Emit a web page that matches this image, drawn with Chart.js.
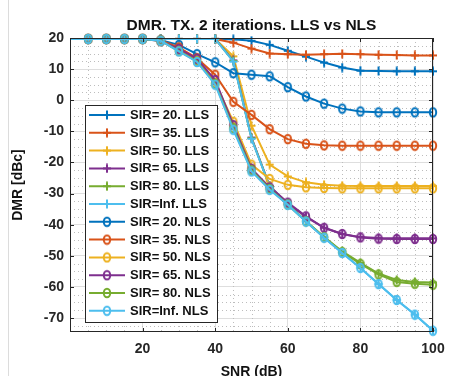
<!DOCTYPE html>
<html>
<head>
<meta charset="utf-8">
<script src="https://cdn.jsdelivr.net/npm/chart.js@4/dist/chart.umd.min.js"></script>
<style>
  html, body { margin: 0; padding: 0; background: #fff; }
  #wrap { position: relative; width: 475px; height: 376px; overflow: hidden; }
  #wrap canvas { position: absolute; left: 0; top: 0; }
  #edge { position: absolute; left: 8px; top: 0; width: 1px; height: 376px; background: #dcdcdc; }
</style>
</head>
<body>
<div id="wrap">
  <canvas id="c" width="475" height="376"></canvas>
  <div id="edge"></div>
</div>
<script>
// SNR sweep (dB)
const snr = [0, 5, 10, 15, 20, 25, 30, 35, 40, 45, 50, 55, 60, 65, 70, 75, 80, 85, 90, 95, 100];

// DMR [dBc] with the LLS estimator, one array per SIR
const llsSir20  = [19.7, 19.7, 19.7, 19.7, 19.7, 19.7, 19.7, 19.7, 19.7, 19.6, 19.1, 17.8, 15.9, 14.0, 12.1, 10.5, 9.5, 9.4, 9.3, 9.3, 9.3];
const llsSir35  = [19.7, 19.7, 19.7, 19.7, 19.7, 19.7, 19.7, 19.7, 19.7, 18.5, 16.6, 15.0, 14.8, 14.6, 14.8, 14.9, 14.8, 14.6, 14.5, 14.4, 14.4];
const llsSir50  = [19.7, 19.7, 19.7, 19.7, 19.7, 19.7, 19.7, 19.7, 19.7, 14.1, -8.2, -20.7, -24.5, -26.4, -27.2, -27.5, -27.6, -27.6, -27.6, -27.6, -27.6];
const llsSir65  = [19.7, 19.7, 19.7, 19.7, 19.7, 19.7, 19.7, 19.7, 19.7, 12.8, -12.0, -27.6, -33.2, -37.5, -41.0, -43.0, -44.0, -44.3, -44.4, -44.4, -44.4];
const llsSir80  = [19.7, 19.7, 19.7, 19.7, 19.7, 19.7, 19.7, 19.7, 19.7, 12.6, -12.2, -27.7, -33.5, -38.9, -44.0, -48.6, -52.3, -55.7, -57.8, -58.4, -58.6];
const llsSirInf = [19.7, 19.7, 19.7, 19.7, 19.7, 19.7, 19.7, 19.7, 19.7, 12.4, -12.4, -27.8, -33.6, -39.0, -44.2, -49.1, -53.9, -59.1, -64.2, -68.9, -74.0];

// DMR [dBc] with the NLS estimator, one array per SIR
const nlsSir20  = [19.7, 19.7, 19.7, 19.7, 19.7, 19.3, 17.8, 14.8, 12.2, 8.7, 8.2, 7.7, 4.2, 1.2, -1.1, -2.7, -3.6, -3.9, -3.9, -3.9, -3.9];
const nlsSir35  = [19.7, 19.7, 19.7, 19.7, 19.7, 19.2, 17.0, 13.5, 8.2, -0.5, -4.7, -9.3, -12.5, -14.0, -14.5, -14.6, -14.6, -14.6, -14.6, -14.6, -14.6];
const nlsSir50  = [19.7, 19.7, 19.7, 19.7, 19.7, 19.1, 16.0, 12.8, 5.5, -6.9, -20.7, -25.3, -27.2, -28.0, -28.2, -28.3, -28.3, -28.3, -28.3, -28.3, -28.3];
const nlsSir65  = [19.7, 19.7, 19.7, 19.7, 19.7, 19.0, 16.5, 13.3, 6.5, -8.0, -22.0, -28.0, -32.9, -37.3, -41.0, -43.0, -44.1, -44.5, -44.6, -44.6, -44.6];
const nlsSir80  = [19.7, 19.7, 19.7, 19.7, 19.7, 19.1, 15.8, 12.5, 5.3, -9.0, -22.5, -28.5, -33.5, -38.9, -44.0, -48.8, -52.6, -56.0, -58.4, -59.0, -59.3];
const nlsSirInf = [19.7, 19.7, 19.7, 19.7, 19.7, 19.1, 15.7, 12.3, 5.0, -9.5, -22.9, -28.8, -33.6, -39.0, -44.2, -49.1, -53.9, -59.1, -64.2, -68.9, -74.1];

// Legend texts
const seriesLabels = [
  'SIR= 20. LLS', 'SIR= 35. LLS', 'SIR= 50. LLS', 'SIR= 65. LLS', 'SIR= 80. LLS', 'SIR=Inf. LLS',
  'SIR= 20. NLS', 'SIR= 35. NLS', 'SIR= 50. NLS', 'SIR= 65. NLS', 'SIR= 80. NLS', 'SIR=Inf. NLS'
];
const xTicks = [20, 40, 60, 80, 100];
const yTicks = [20, 10, 0, -10, -20, -30, -40, -50, -60, -70];

const seriesValues = [llsSir20, llsSir35, llsSir50, llsSir65, llsSir80, llsSirInf,
                      nlsSir20, nlsSir35, nlsSir50, nlsSir65, nlsSir80, nlsSirInf];
const palette = ['#0072BD', '#D95319', '#EDB120', '#7E2F8E', '#77AC30', '#4DBEEE'];

// '+' marker
function plusMarker(color) {
  const c = document.createElement('canvas');
  c.width = 10; c.height = 10;
  const g = c.getContext('2d');
  g.strokeStyle = color; g.lineWidth = 2;
  g.beginPath();
  g.moveTo(5, 0.5); g.lineTo(5, 9.5);
  g.moveTo(1, 5); g.lineTo(9, 5);
  g.stroke();
  return c;
}
// 'o' marker
function ovalMarker(color) {
  const c = document.createElement('canvas');
  c.width = 12; c.height = 12;
  const g = c.getContext('2d');
  g.strokeStyle = color; g.lineWidth = 2;
  g.beginPath();
  g.ellipse(6, 6, 3.2, 4.3, 0, 0, Math.PI * 2);
  g.stroke();
  return c;
}

// no marker on the sample sitting on the left axis edge
const markerRadius = snr.map(v => (v === 0 ? 0 : 5));

const datasets = seriesValues.map((vals, i) => {
  const color = palette[i % 6];
  const marker = i < 6 ? plusMarker(color) : ovalMarker(color);
  return {
    label: seriesLabels[i],
    data: snr.map((x, k) => ({ x: x, y: vals[k] })),
    borderColor: color,
    backgroundColor: color,
    borderWidth: 2,
    pointStyle: marker,
    pointRadius: markerRadius,
    tension: 0,
    fill: false,
    order: 12 - i,
    clip: { left: 0, top: false, right: false, bottom: false }
  };
});

const AX = '#262626';
const FONT = '"Liberation Sans", Arial, Helvetica, sans-serif';

// dotted minor grid
const minorGrid = {
  id: 'minorGrid',
  beforeDatasetsDraw(chart) {
    const { ctx, chartArea: a, scales: { x, y } } = chart;
    ctx.save();
    ctx.strokeStyle = '#bdbdbd';
    ctx.lineWidth = 1;
    ctx.setLineDash([1, 3]);
    ctx.beginPath();
    for (let v = 5; v < 100; v += 5) {
      if (v % 20 === 0) continue;
      const px = Math.round(x.getPixelForValue(v)) + 0.5;
      ctx.moveTo(px, a.top); ctx.lineTo(px, a.bottom);
    }
    for (let v = -72.5; v < 20; v += 2.5) {
      if (Math.abs(v % 10) < 1e-6) continue;
      const py = Math.round(y.getPixelForValue(v)) + 0.5;
      ctx.moveTo(a.left, py); ctx.lineTo(a.right, py);
    }
    ctx.stroke();
    ctx.restore();
  }
};

// axes box, inward ticks, legend box
const frameAndLegend = {
  id: 'frameAndLegend',
  afterDatasetsDraw(chart) {
    const { ctx, chartArea: a, scales: { x, y } } = chart;
    ctx.save();
    ctx.strokeStyle = AX;
    ctx.lineWidth = 1;
    ctx.setLineDash([]);
    ctx.strokeRect(Math.round(a.left) + 0.5, Math.round(a.top) + 0.5,
                   Math.round(a.right - a.left) - 1, Math.round(a.bottom - a.top) - 1);
    ctx.beginPath();
    yTicks.forEach(v => {
      const py = Math.round(y.getPixelForValue(v)) + 0.5;
      ctx.moveTo(a.left, py); ctx.lineTo(a.left + 4, py);
      ctx.moveTo(a.right, py); ctx.lineTo(a.right - 4, py);
    });
    xTicks.forEach(v => {
      const px = Math.round(x.getPixelForValue(v)) + 0.5;
      ctx.moveTo(px, a.bottom); ctx.lineTo(px, a.bottom - 4);
      ctx.moveTo(px, a.top); ctx.lineTo(px, a.top + 4);
    });
    ctx.stroke();

    // legend
    const lx = a.left + 15, ly = a.top + 67, lw = 132, lh = 217, rowH = 17.8;
    ctx.fillStyle = '#fff';
    ctx.fillRect(lx, ly, lw, lh);
    ctx.strokeStyle = AX;
    ctx.strokeRect(lx + 0.5, ly + 0.5, lw, lh);
    ctx.font = 'bold 13px ' + FONT;
    ctx.textBaseline = 'middle';
    ctx.textAlign = 'left';
    chart.data.datasets.forEach((ds, i) => {
      const cy = ly + 10 + i * rowH;
      ctx.strokeStyle = ds.borderColor;
      ctx.lineWidth = 2;
      ctx.beginPath();
      ctx.moveTo(lx + 4, cy); ctx.lineTo(lx + 40, cy);
      ctx.stroke();
      const img = ds.pointStyle;
      ctx.drawImage(img, lx + 22 - img.width / 2, cy - img.height / 2);
      ctx.fillStyle = '#111';
      ctx.fillText(ds.label, lx + 45, cy + 0.5);
    });
    ctx.restore();
  },
  afterDraw(chart) {
    const { ctx, chartArea: a } = chart;
    ctx.save();
    ctx.fillStyle = '#111';
    ctx.textAlign = 'center';
    ctx.textBaseline = 'alphabetic';
    ctx.font = 'bold 15.5px ' + FONT;
    ctx.fillText('DMR. TX. 2 iterations. LLS vs NLS', (a.left + a.right) / 2, 29.5);
    ctx.font = 'bold 14px ' + FONT;
    ctx.fillText('SNR (dB)', (a.left + a.right) / 2, 375.5);
    ctx.translate(22, (a.top + a.bottom) / 2);
    ctx.rotate(-Math.PI / 2);
    ctx.fillText('DMR [dBc]', 0, 0);
    ctx.restore();
  }
};

new Chart(document.getElementById('c'), {
  type: 'line',
  data: { datasets: datasets },
  options: {
    responsive: false,
    animation: false,
    events: [],
    layout: { padding: { top: 38, right: 42, left: 0, bottom: 0 } },
    plugins: { legend: { display: false }, title: { display: false }, tooltip: { enabled: false } },
    scales: {
      x: {
        type: 'linear',
        min: 0, max: 100,
        afterFit(s) { s.height = 44; },
        afterBuildTicks(s) { s.ticks = [0].concat(xTicks).map(v => ({ value: v })); },
        grid: { color: '#dedede', lineWidth: 1, drawTicks: false },
        border: { display: false },
        ticks: {
          padding: 9,
          color: AX,
          font: { family: FONT, size: 14, weight: 'bold' },
          callback: v => (v === 0 ? '' : String(v))
        }
      },
      y: {
        type: 'linear',
        min: -74.5, max: 20,
        afterFit(s) { s.width = 70; },
        afterBuildTicks(s) { s.ticks = yTicks.map(v => ({ value: v })); },
        grid: { color: '#dedede', lineWidth: 1, drawTicks: false },
        border: { display: false },
        ticks: {
          padding: 6,
          color: AX,
          font: { family: FONT, size: 14, weight: 'bold' },
          callback: v => String(v)
        }
      }
    }
  },
  plugins: [minorGrid, frameAndLegend]
});
</script>
</body>
</html>
